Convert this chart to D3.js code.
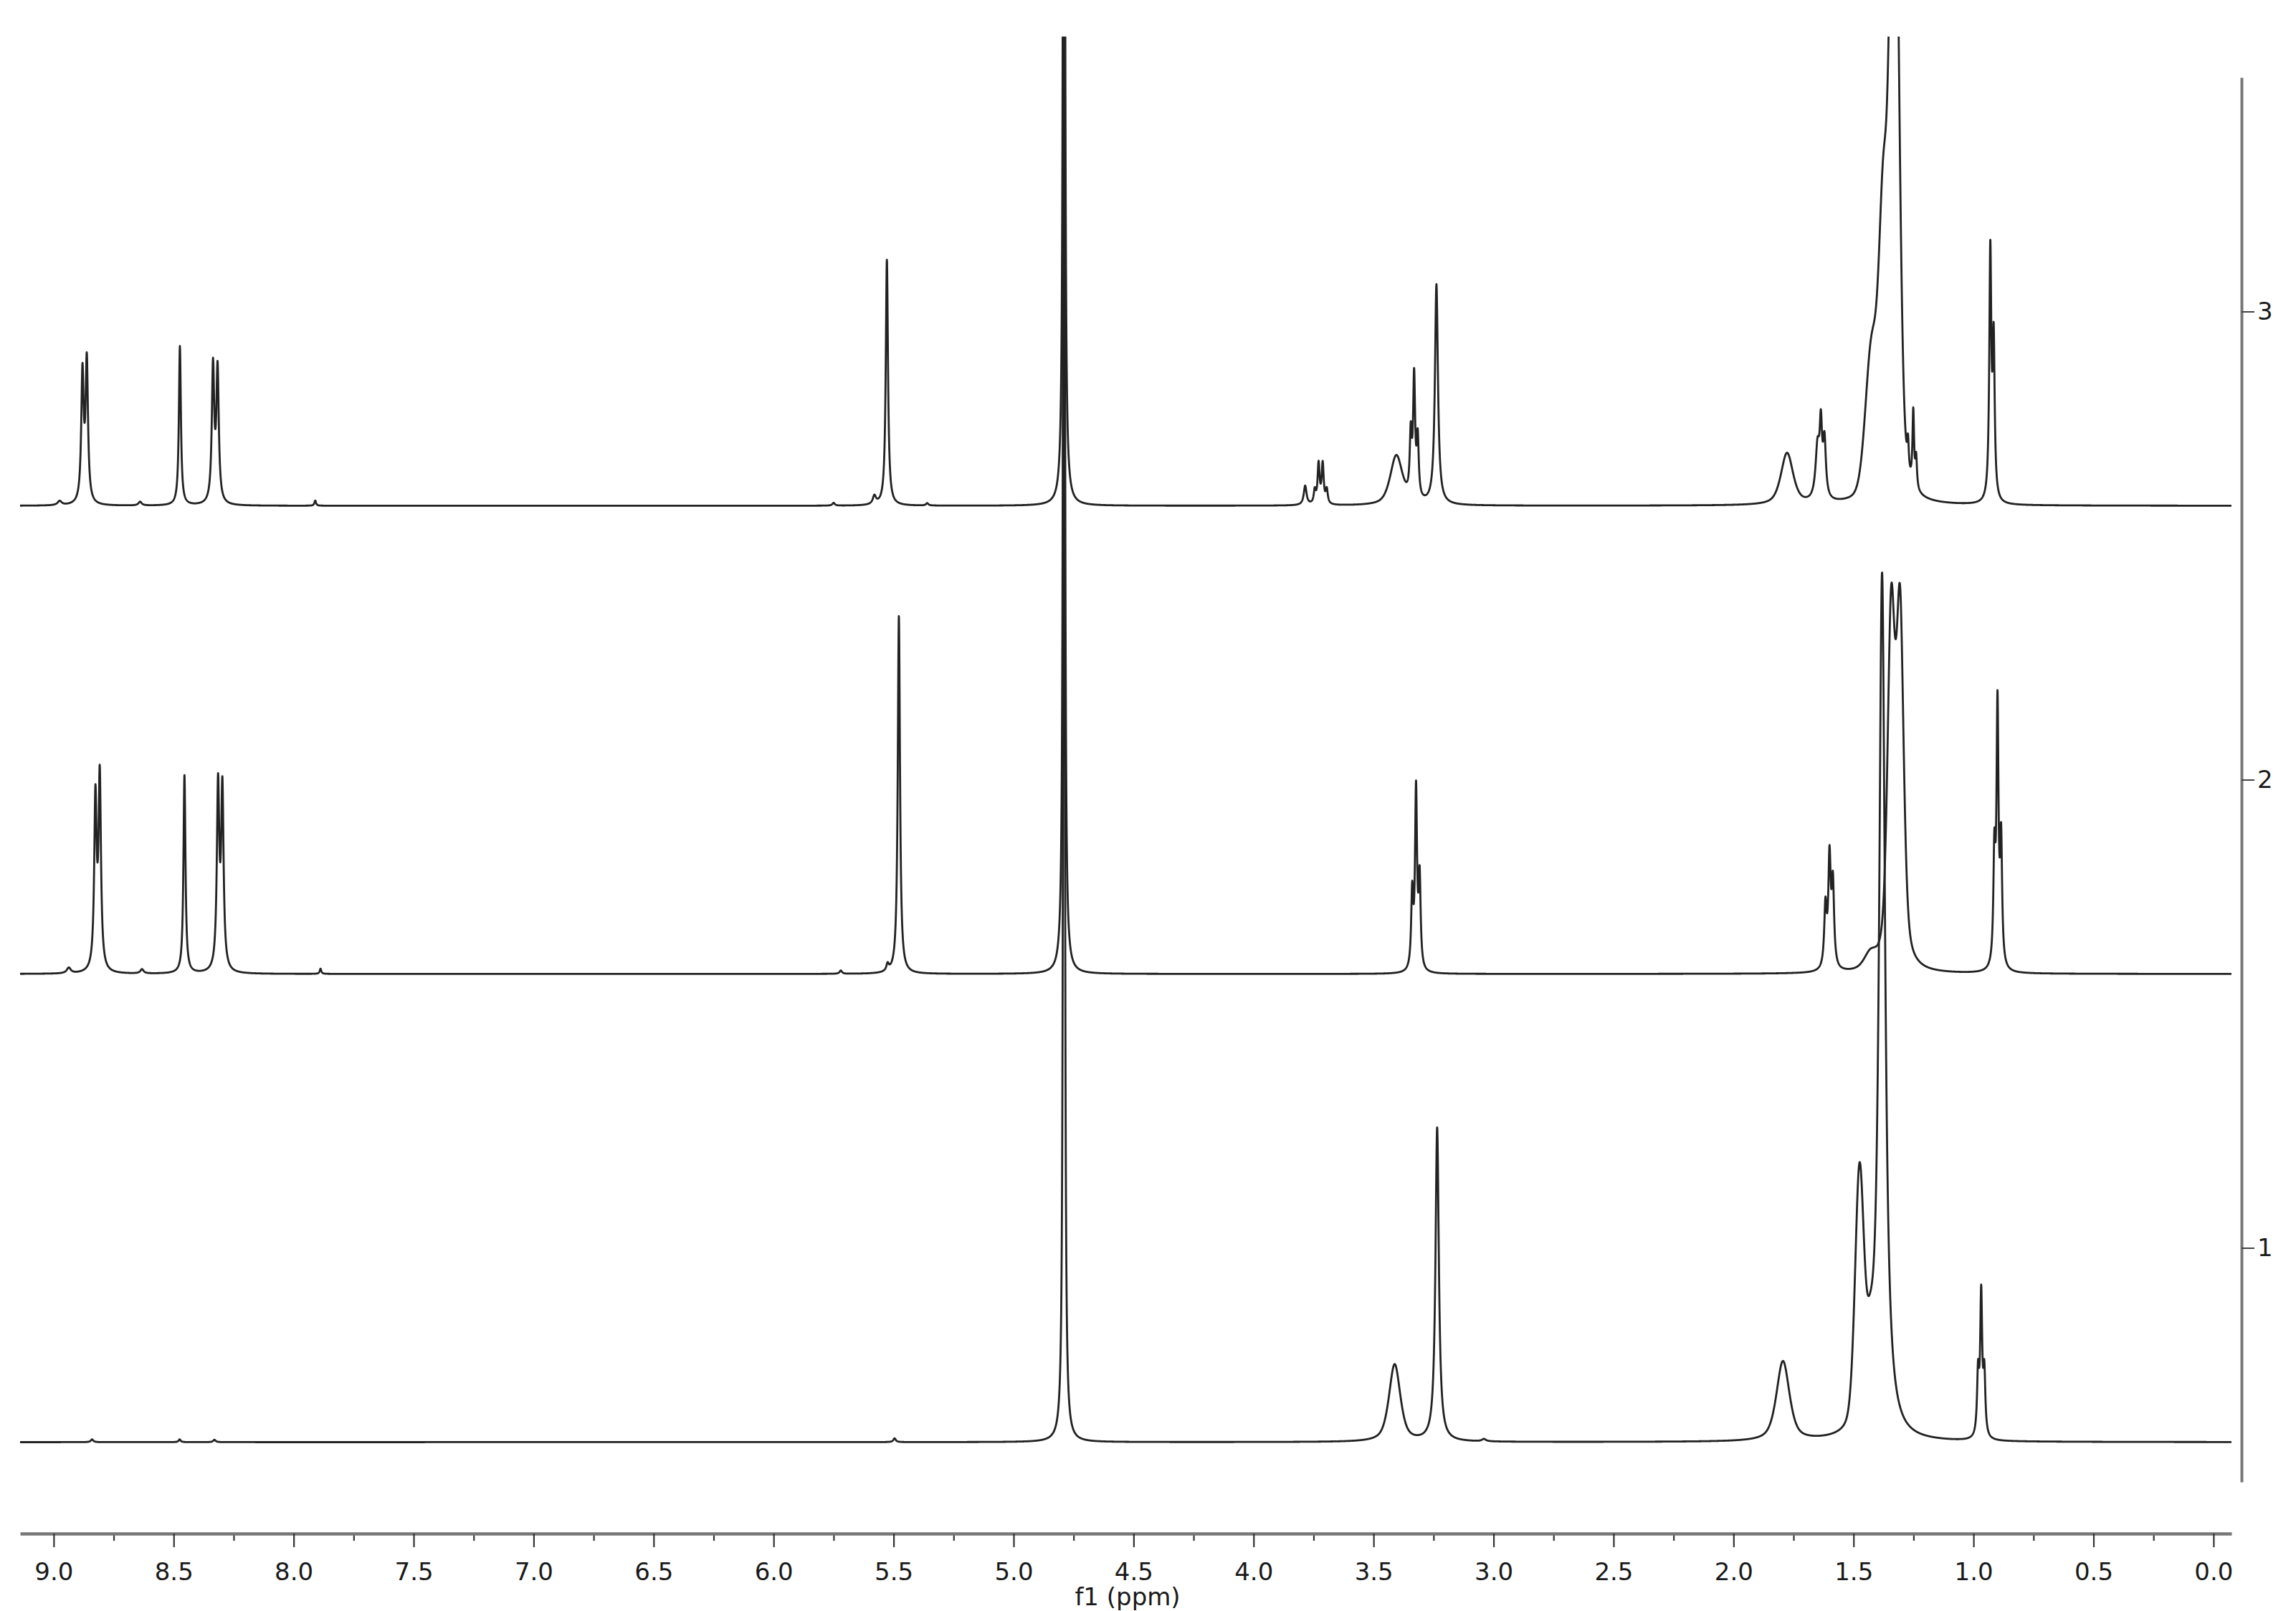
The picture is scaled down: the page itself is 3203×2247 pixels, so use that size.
<!DOCTYPE html>
<html>
<head>
<meta charset="utf-8">
<script src="https://cdn.jsdelivr.net/npm/d3@7"></script>
<style>
  html, body { margin: 0; padding: 0; background: #fff; }
  svg { display: block; font-family: "DejaVu Sans", Verdana, sans-serif; }
</style>
</head>
<body>
<svg id="chart" width="3203" height="2247"></svg>
<script>
// stacked 1H spectra
// peak = [ppm, height (in stack units), half width (ppm), lorentz fraction]
var spectrumIds = [1, 2, 3];
var baselines = [0.585, 1.585, 2.585];

var peaks1 = [
    [8.84, 0.006, 0.006],
    [8.475, 0.006, 0.005],
    [8.33, 0.005, 0.006],
    [5.496, 0.008, 0.006],
    [4.790, 4.0, 0.0032],
    [3.412, 0.165, 0.028, 0.6],
    [3.235, 0.67, 0.0084],
    [3.04, 0.005, 0.01],
    [1.794, 0.17, 0.032, 0.6],
    [1.475, 0.54, 0.022, 0.3],
    [1.430, 0.11, 0.02, 0.5],
    [1.381, 1.84, 0.015],
    [0.981, 0.13, 0.005],
    [0.968, 0.30, 0.005],
    [0.955, 0.13, 0.005]
];

var peaks2 = [
    [8.937, 0.012, 0.010],
    [8.826, 0.364, 0.006],
    [8.808, 0.41, 0.006],
    [8.632, 0.009, 0.008],
    [8.455, 0.424, 0.005],
    [8.315, 0.39, 0.006],
    [8.297, 0.383, 0.006],
    [7.888, 0.011, 0.004],
    [5.72, 0.007, 0.006],
    [5.525, 0.015, 0.006],
    [5.478, 0.765, 0.0055],
    [4.790, 4.0, 0.0032],
    [3.339, 0.16, 0.005],
    [3.323, 0.38, 0.005],
    [3.308, 0.19, 0.005],
    [1.617, 0.13, 0.006],
    [1.600, 0.23, 0.006],
    [1.586, 0.175, 0.006],
    [1.43, 0.03, 0.03, 0.4],
    [1.343, 0.738, 0.018, 0.5],
    [1.306, 0.738, 0.018, 0.5],
    [0.913, 0.23, 0.005],
    [0.900, 0.55, 0.005],
    [0.885, 0.26, 0.005]
];

var peaks3 = [
    [8.975, 0.009, 0.010],
    [8.880, 0.275, 0.006],
    [8.862, 0.300, 0.006],
    [8.640, 0.008, 0.008],
    [8.474, 0.340, 0.005],
    [8.336, 0.290, 0.006],
    [8.317, 0.283, 0.006],
    [7.910, 0.011, 0.004],
    [5.75, 0.006, 0.006],
    [5.58, 0.018, 0.008],
    [5.528, 0.525, 0.0055],
    [5.36, 0.005, 0.006],
    [4.790, 4.0, 0.0032],
    [3.785, 0.041, 0.007],
    [3.745, 0.028, 0.005],
    [3.729, 0.085, 0.005],
    [3.712, 0.085, 0.005],
    [3.695, 0.030, 0.005],
    [3.405, 0.105, 0.030, 0.6],
    [3.345, 0.13, 0.005],
    [3.331, 0.255, 0.005],
    [3.316, 0.125, 0.005],
    [3.238, 0.47, 0.0075],
    [1.777, 0.11, 0.030, 0.6],
    [1.650, 0.11, 0.010],
    [1.636, 0.14, 0.006],
    [1.621, 0.12, 0.007],
    [1.425, 0.30, 0.030, 0.2],
    [1.376, 0.55, 0.022, 0.3],
    [1.330, 1.6, 0.022, 0.3],
    [1.273, 0.065, 0.004],
    [1.251, 0.16, 0.004],
    [1.239, 0.065, 0.004],
    [0.930, 0.53, 0.005],
    [0.916, 0.33, 0.005]
];

var xTickLabels = [9.0, 8.5, 8.0, 7.5, 7.0, 6.5, 6.0, 5.5, 5.0, 4.5, 4.0, 3.5, 3.0, 2.5, 2.0, 1.5, 1.0, 0.5, 0.0];
var xMinorTicks = [8.75, 8.25, 7.75, 7.25, 6.75, 6.25, 5.75, 5.25, 4.75, 4.25, 3.75, 3.25, 2.75, 2.25, 1.75, 1.25, 0.75, 0.25];
var yTickLabels = [1, 2, 3];
var xTitle = "f1 (ppm)";

var svg = d3.select("#chart");

var x = d3.scaleLinear().domain([9.14, -0.075]).range([28, 3113]);
var y = d3.scaleLinear().domain([0.5, 3.5]).range([2067, 108]);

function lineShape(p, ppm) {
    var d = (ppm - p[0]) / p[2];
    var eta = p.length > 3 ? p[3] : 1;
    return p[1] * (eta / (1 + d * d) + (1 - eta) * Math.exp(-Math.LN2 * d * d));
}

// sample each spectrum finely along the ppm axis
var step = 0.0006;
var grid = d3.range(9.14, -0.075, -step);
var allPeaks = [peaks1, peaks2, peaks3];

var spectra = spectrumIds.map(function(id, i) {
    var pk = allPeaks[i];
    return grid.map(function(ppm) {
        var v = baselines[i];
        for (var k = 0; k < pk.length; k++) v += lineShape(pk[k], ppm);
        return [ppm, v];
    });
});

svg.append("defs").append("clipPath").attr("id", "plotclip")
    .append("rect")
    .attr("x", x.range()[0]).attr("y", 51)
    .attr("width", x.range()[1] - x.range()[0])
    .attr("height", 2100 - 51);

var line = d3.line()
    .x(function(d) { return x(d[0]); })
    .y(function(d) { return y(d[1]); });

svg.append("g").attr("clip-path", "url(#plotclip)")
    .selectAll("path")
    .data(spectra)
    .enter().append("path")
    .attr("d", line)
    .attr("fill", "none")
    .attr("stroke", "#222")
    .attr("stroke-width", 2.8)
    .attr("stroke-linejoin", "round");

// bottom axis
var axisY = 2139;
var minorAxis = d3.axisBottom(x).tickValues(xMinorTicks).tickSize(10).tickSizeOuter(0).tickFormat("");
var gMinor = svg.append("g").attr("transform", "translate(0," + axisY + ")").call(minorAxis);
gMinor.select(".domain").remove();

var xAxis = d3.axisBottom(x)
    .tickValues(xTickLabels)
    .tickSize(19)
    .tickSizeOuter(0)
    .tickPadding(22)
    .tickFormat(d3.format(".1f"));
var gx = svg.append("g").attr("transform", "translate(0," + axisY + ")").call(xAxis);
gx.select(".domain").attr("stroke", "#777").attr("stroke-width", 4.5);

svg.selectAll(".tick line").attr("stroke", "#333").attr("stroke-width", 2.2);
gx.selectAll("text").attr("font-size", 34).attr("fill", "#1a1a1a")
    .attr("font-family", "'DejaVu Sans', Verdana, sans-serif");

svg.append("text")
    .attr("x", 1573).attr("y", 2239)
    .attr("text-anchor", "middle")
    .attr("font-size", 34).attr("fill", "#1a1a1a")
    .text(xTitle);

// right stack axis
var yAxis = d3.axisRight(y).tickValues(yTickLabels).tickSize(18).tickSizeOuter(0)
    .tickPadding(4).tickFormat(d3.format("d"));
var gy = svg.append("g").attr("transform", "translate(3127,0)").call(yAxis);
gy.select(".domain").attr("stroke", "#777").attr("stroke-width", 4);
gy.selectAll(".tick line").attr("stroke", "#444").attr("stroke-width", 2);
gy.selectAll("text").attr("font-size", 34).attr("fill", "#1a1a1a")
    .attr("font-family", "'DejaVu Sans', Verdana, sans-serif");
</script>
</body>
</html>
